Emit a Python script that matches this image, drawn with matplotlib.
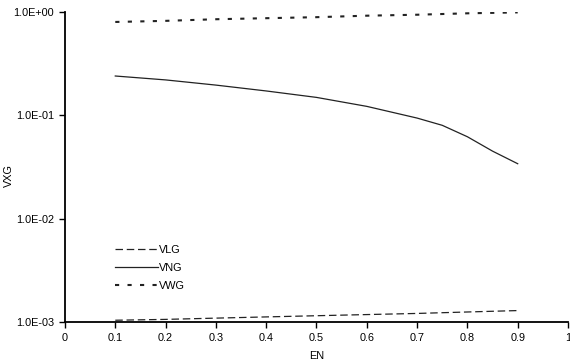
import matplotlib
matplotlib.use("Agg")
import matplotlib.pyplot as plt
from matplotlib.ticker import FixedLocator, NullLocator

# данни, отчетени от графиката
en = [0.1, 0.2, 0.3, 0.4, 0.5, 0.6, 0.7, 0.75, 0.8, 0.85, 0.9]
vlg = [0.00104, 0.00106, 0.00109, 0.00112, 0.00115, 0.00118, 0.00121, 0.00123, 0.00125, 0.00127, 0.00129]
vng = [0.240, 0.220, 0.196, 0.172, 0.149, 0.122, 0.094, 0.080, 0.062, 0.045, 0.034]
vwg = [0.80, 0.82, 0.85, 0.87, 0.89, 0.92, 0.94, 0.955, 0.97, 0.98, 0.99]

x_ticks = [0, 0.1, 0.2, 0.3, 0.4, 0.5, 0.6, 0.7, 0.8, 0.9, 1]
x_labels = ["0", "0.1", "0.2", "0.3", "0.4", "0.5", "0.6", "0.7", "0.8", "0.9", "1"]
y_ticks = [1e-3, 1e-2, 1e-1, 1e0]
y_labels = ["1.0E-03", "1.0E-02", "1.0E-01", "1.0E+00"]

plt.rcParams["font.family"] = ["Liberation Sans", "DejaVu Sans"]
plt.rcParams["font.size"] = 7.8

fig = plt.figure(figsize=(5.7, 3.62), dpi=100)
ax = fig.add_axes([0.114, 0.1105, 0.8825, 0.8565])

clr = "#222222"
ax.plot(en, vlg, color=clr, lw=0.9, linestyle=(0, (6, 3)), label="VLG")
ax.plot(en, vng, color=clr, lw=0.9, linestyle="-", label="VNG")
ax.plot(en, vwg, color=clr, lw=1.5, linestyle=(0, (2, 4)), label="VWG")

ax.set_yscale("log")
ax.set_xlim(0, 1)
ax.set_ylim(1e-3, 1e0)
ax.xaxis.set_major_locator(FixedLocator(x_ticks))
ax.set_xticklabels(x_labels)
ax.yaxis.set_major_locator(FixedLocator(y_ticks))
ax.yaxis.set_minor_locator(NullLocator())
ax.set_yticklabels(y_labels)

for s in ["top", "right"]:
    ax.spines[s].set_visible(False)
for s in ["left", "bottom"]:
    ax.spines[s].set_linewidth(1.3)
ax.tick_params(direction="out", length=4, width=1, pad=4, colors="black")

ax.set_xlabel("EN", labelpad=6)
# надписът на оста Y – поставен ръчно, за да не се реже
fig.text(0.016, 0.515, "VXG", rotation=90, ha="center", va="center")

ax.legend(loc="upper left", bbox_to_anchor=(0.08, 0.28), frameon=False,
          handlelength=4, handletextpad=0.1, labelspacing=0.75)

fig.savefig("out.png", dpi=100)
